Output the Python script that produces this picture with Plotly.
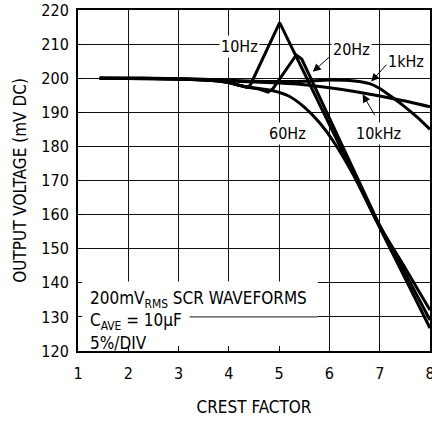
import plotly.graph_objects as go

# ---- data ----
cf_10hz = [1.43, 2.0, 2.5, 3.0, 3.5, 3.8, 4.0, 4.2, 4.35, 4.42, 5.01, 6.96, 8.0]
v_10hz = [200.0, 200.0, 199.9, 199.8, 199.5, 199.2, 198.7, 197.9, 197.4, 197.8, 216.3, 157.4, 126.7]

cf_20hz = [1.43, 2.0, 2.5, 3.0, 3.5, 3.8, 4.0, 4.2, 4.35, 4.6, 4.78, 4.88, 5.34, 5.45, 6.96, 8.0]
v_20hz = [200.0, 200.0, 199.9, 199.8, 199.5, 199.2, 198.7, 197.9, 197.4, 196.8, 195.9, 197.0, 206.8, 205.6, 158.0, 129.1]

cf_60hz = [1.43, 2.0, 2.5, 3.0, 3.5, 3.8, 4.0, 4.2, 4.35, 4.6, 4.88, 5.2, 5.5, 5.8, 6.1, 6.5, 6.96, 7.5, 8.0]
v_60hz = [200.0, 200.0, 199.9, 199.8, 199.5, 199.2, 198.7, 197.9, 197.4, 197.0, 196.3, 194.7, 191.5, 187.0, 181.0, 171.0, 157.6, 144.5, 132.0]

cf_1khz = [1.43, 2.0, 2.5, 3.0, 3.5, 4.0, 4.5, 5.0, 5.5, 6.0, 6.5, 6.8, 7.0, 7.25, 7.5, 7.75, 8.0]
v_1khz = [200.0, 200.0, 199.95, 199.85, 199.7, 199.4, 199.1, 199.0, 199.1, 199.5, 199.2, 198.4, 197.0, 194.4, 191.6, 188.5, 185.0]

cf_10khz = [1.43, 2.0, 2.5, 3.0, 3.5, 4.0, 4.5, 5.0, 5.5, 6.0, 6.5, 7.0, 7.5, 8.0]
v_10khz = [200.0, 200.0, 199.9, 199.8, 199.6, 199.2, 198.9, 198.6, 198.1, 197.2, 196.1, 194.8, 193.3, 191.6]

x_ticks = [1, 2, 3, 4, 5, 6, 7, 8]
y_ticks = [120, 130, 140, 150, 160, 170, 180, 190, 200, 210, 220]

FONT = "DejaVu Sans Condensed, Liberation Sans Narrow, Roboto, sans-serif"
FS = 16
FT = 17

fig = go.Figure()
series = [
    (cf_10hz, v_10hz, "10Hz", "linear"),
    (cf_20hz, v_20hz, "20Hz", "linear"),
    (cf_60hz, v_60hz, "60Hz", "spline"),
    (cf_1khz, v_1khz, "1kHz", "spline"),
    (cf_10khz, v_10khz, "10kHz", "spline"),
]
for xs, ys, name, shp in series:
    fig.add_trace(go.Scatter(x=xs, y=ys, mode="lines", name=name,
                             line=dict(color="black", width=3, shape=shp,
                                       smoothing=0.6 if shp == "spline" else None),
                             showlegend=False, hoverinfo="skip"))

# white box behind the condition text (hides grid)
fig.add_shape(type="rect", x0=1, x1=5.77, y0=120, y1=140.4, xref="x", yref="y",
              fillcolor="white", line=dict(width=0), layer="between")
fig.add_shape(type="line", x0=3.22, x1=5.77, y0=130, y1=130, xref="x", yref="y",
              line=dict(color="#1a1a1a", width=1), layer="between")

# labels
labels = [
    ("10Hz", 4.21, 209.2),
    ("20Hz", 6.43, 208.5),
    ("1kHz", 7.52, 204.8),
    ("60Hz", 5.17, 183.8),
    ("10kHz", 6.98, 183.8),
]
for t, x, y in labels:
    fig.add_annotation(x=x, y=y, text=t, showarrow=False, bgcolor="white",
                       borderpad=1, font=dict(family=FONT, size=FS, color="black"),
                       xanchor="center", yanchor="middle")

# arrows (head x,y ; tail ax,ay in data units)
arrows = [
    (5.67, 201.9, 6.02, 206.5),
    (6.83, 199.0, 7.16, 204.4),
    (6.66, 195.3, 6.92, 188.7),
]
for x, y, ax, ay in arrows:
    fig.add_annotation(x=x, y=y, ax=ax, ay=ay, axref="x", ayref="y", text="",
                       showarrow=True, arrowhead=2, arrowsize=1.6, arrowwidth=1,
                       arrowcolor="black")

cond = [
    ("200mV<sub>RMS</sub> SCR WAVEFORMS", 135.0),
    ("C<sub>AVE</sub> = 10µF", 128.6),
    ("5%/DIV", 122.4),
]
for t, y in cond:
    fig.add_annotation(x=1.2, y=y, text=t, showarrow=False, xanchor="left",
                       yanchor="middle", font=dict(family=FONT, size=FT, color="black"))

fig.update_xaxes(range=[1, 8], tickvals=x_ticks, ticktext=[str(v) for v in x_ticks],
                 showgrid=True, gridcolor="#111111", gridwidth=1,
                 showline=True, linecolor="black", linewidth=2, mirror=True,
                 ticks="inside", ticklen=5, tickcolor="black", tickwidth=1,
                 ticklabelstandoff=7, ticklabeloverflow="allow",
                 zeroline=False, automargin=False,
                 tickfont=dict(family=FONT, size=FS, color="black"),
                 title=dict(text="CREST FACTOR", font=dict(family=FONT, size=FT, color="black"),
                            standoff=19))
fig.update_yaxes(range=[120, 220], tickvals=y_ticks, ticktext=[str(v) for v in y_ticks],
                 showgrid=True, gridcolor="#111111", gridwidth=1,
                 showline=True, linecolor="black", linewidth=2, mirror=True,
                 ticks="inside", ticklen=4, tickcolor="black", tickwidth=1,
                 ticklabelstandoff=4, ticklabeloverflow="allow",
                 zeroline=False, automargin=False,
                 tickfont=dict(family=FONT, size=FS, color="black"),
                 title=dict(text="OUTPUT VOLTAGE (mV DC)",
                            font=dict(family=FONT, size=FT, color="black"), standoff=10))

fig.update_layout(width=432, height=421, margin=dict(l=78, r=2, t=10, b=70),
                  plot_bgcolor="white", paper_bgcolor="white",
                  font=dict(family=FONT, size=FS, color="black"))

fig.write_html("out.html", config={"displayModeBar": False, "staticPlot": True},
               post_script="document.body.style.margin='0';document.body.style.overflow='hidden';")
